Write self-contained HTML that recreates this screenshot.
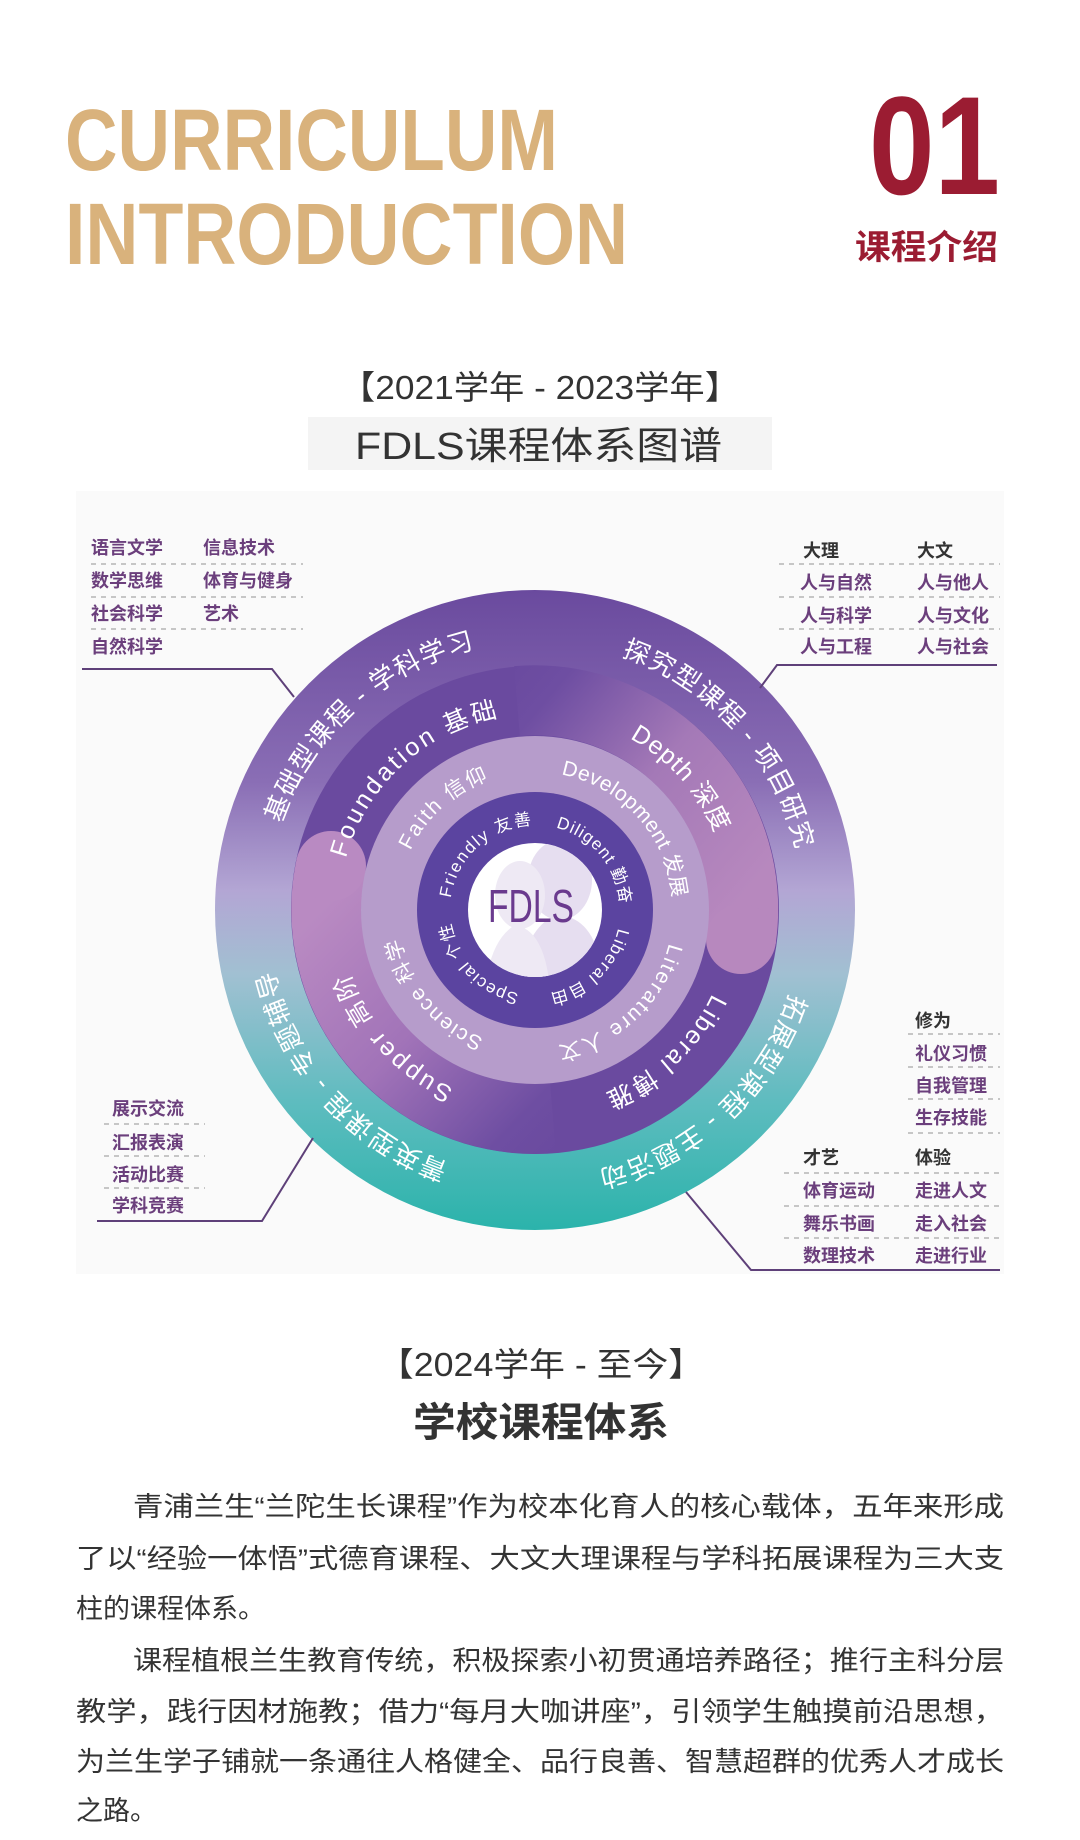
<!DOCTYPE html>
<html><head><meta charset="utf-8"><style>
html,body{margin:0;padding:0;background:#fff;}
svg{display:block;}
.cjk{font-family:"Liberation Sans","Noto Sans CJK SC",sans-serif;}
</style></head><body>
<svg width="1080" height="1840" viewBox="0 0 1080 1840" xmlns="http://www.w3.org/2000/svg" class="cjk">
<defs>
<linearGradient id="outerG" x1="0" y1="590" x2="0" y2="1230" gradientUnits="userSpaceOnUse">
<stop offset="0" stop-color="#6a4a9e"/>
<stop offset="0.3" stop-color="#8a6eb5"/>
<stop offset="0.47" stop-color="#b3a6d4"/>
<stop offset="0.6" stop-color="#a1c0d2"/>
<stop offset="0.8" stop-color="#5ebcbf"/>
<stop offset="1" stop-color="#2bb3ab"/>
</linearGradient>
<linearGradient id="pk1" x1="490" y1="690" x2="740" y2="900" gradientUnits="userSpaceOnUse">
<stop offset="0" stop-color="#6a4a9f"/>
<stop offset="0.15" stop-color="#6e4ea2"/>
<stop offset="0.55" stop-color="#a479b7"/>
<stop offset="1" stop-color="#b788be"/>
</linearGradient>
<linearGradient id="pk2" x1="575" y1="1135" x2="330" y2="900" gradientUnits="userSpaceOnUse">
<stop offset="0" stop-color="#6a4a9f"/>
<stop offset="0.15" stop-color="#6e4ea2"/>
<stop offset="0.55" stop-color="#a173b8"/>
<stop offset="1" stop-color="#b98ac2"/>
</linearGradient>
<path id="p1" d="M803 910 A268 268 0 1 1 267 910 A268 268 0 1 1 803 910"/>
<path id="p2" d="M731 910 A196 196 0 1 1 339 910 A196 196 0 1 1 731 910"/>
<path id="p3" d="M673 910 A138 138 0 1 1 397 910 A138 138 0 1 1 673 910"/>
<path id="p4" d="M620 910 A85 85 0 1 1 450 910 A85 85 0 1 1 620 910"/>
<clipPath id="cc"><circle cx="535" cy="910" r="67"/></clipPath>
</defs>

<text x="65" y="170" font-family="Liberation Sans" font-weight="bold" font-size="87" fill="#d9b27c" textLength="493" lengthAdjust="spacingAndGlyphs">CURRICULUM</text>
<text x="65" y="264" font-family="Liberation Sans" font-weight="bold" font-size="87" fill="#d9b27c" textLength="563" lengthAdjust="spacingAndGlyphs">INTRODUCTION</text>
<text x="869" y="194" font-family="Liberation Sans" font-weight="bold" font-size="140" fill="#9b1c32" textLength="131" lengthAdjust="spacingAndGlyphs">01</text>
<text x="855" y="259" font-weight="bold" font-size="34" fill="#9b1c32" textLength="143" lengthAdjust="spacingAndGlyphs">课程介绍</text>

<text x="340" y="399" font-size="33" fill="#333" textLength="400" lengthAdjust="spacingAndGlyphs">【2021学年 - 2023学年】</text>
<rect x="76" y="491" width="928" height="783" fill="#fafafa"/>
<rect x="308" y="417" width="464" height="53" fill="#f4f4f4"/>
<text x="355" y="459" font-size="38" fill="#333" textLength="367" lengthAdjust="spacingAndGlyphs">FDLS课程体系图谱</text>

<circle cx="535" cy="910" r="320" fill="url(#outerG)"/>
<circle cx="535" cy="910" r="244" fill="#6a4a9f"/>
<path d="M517 701 A209 209 0 0 1 741 939" fill="none" stroke="url(#pk1)" stroke-width="70"/>
<circle cx="741" cy="939" r="35" fill="#b788be"/>
<path d="M553 1118 A209 209 0 0 1 331 866" fill="none" stroke="url(#pk2)" stroke-width="70"/>
<circle cx="331" cy="866" r="35" fill="#b98ac2"/>
<circle cx="535" cy="910" r="174" fill="#b69ccb"/>
<circle cx="535" cy="910" r="118" fill="#5b44a0"/>
<circle cx="535" cy="910" r="67" fill="#fff"/>
<g clip-path="url(#cc)" fill="#e6def0">
<ellipse cx="560" cy="880" rx="32" ry="40"/>
<path d="M520 980 Q525 930 555 915 Q590 915 600 960 L600 990 L520 990 Z"/>
<ellipse cx="520" cy="895" rx="25" ry="34" fill="#eee9f4"/>
<path d="M485 990 Q490 940 515 925 Q545 930 550 990 Z" fill="#eee9f4"/>
</g>
<text x="488" y="922" font-family="Liberation Sans" font-size="46" fill="#6a3a8e" textLength="86" lengthAdjust="spacingAndGlyphs">FDLS</text>

<g fill="#fff" text-anchor="middle">
<text font-size="26"><textPath href="#p1" startOffset="63.3%" textLength="272" lengthAdjust="spacing">基础型课程 - 学科学习</textPath></text>
<text font-size="26"><textPath href="#p1" startOffset="88.3%" textLength="272" lengthAdjust="spacing">探究型课程 - 项目研究</textPath></text>
<text font-size="26"><textPath href="#p1" startOffset="13.1%" textLength="272" lengthAdjust="spacing">拓展型课程 - 主题活动</textPath></text>
<text font-size="26"><textPath href="#p1" startOffset="38.3%" textLength="272" lengthAdjust="spacing">菁英型课程 - 专题辅导</textPath></text>

<text font-size="25"><textPath href="#p2" startOffset="63.1%" textLength="218" lengthAdjust="spacing">Foundation 基础</textPath></text>
<text font-size="25"><textPath href="#p2" startOffset="88.3%" textLength="130" lengthAdjust="spacing">Depth 深度</textPath></text>
<text font-size="25"><textPath href="#p2" startOffset="13.1%" textLength="150" lengthAdjust="spacing">Liberal 博雅</textPath></text>
<text font-size="25"><textPath href="#p2" startOffset="38.3%" textLength="160" lengthAdjust="spacing">Supper 高阶</textPath></text>

<text font-size="21"><textPath href="#p3" startOffset="63.3%" textLength="108" lengthAdjust="spacing">Faith 信仰</textPath></text>
<text font-size="21"><textPath href="#p3" startOffset="88.3%" textLength="178" lengthAdjust="spacing">Development 发展</textPath></text>
<text font-size="21"><textPath href="#p3" startOffset="13.1%" textLength="160" lengthAdjust="spacing">Literature 人文</textPath></text>
<text font-size="21"><textPath href="#p3" startOffset="38.9%" textLength="136" lengthAdjust="spacing">Science 科学</textPath></text>

<text font-size="17"><textPath href="#p4" startOffset="63.3%" textLength="118" lengthAdjust="spacing">Friendly 友善</textPath></text>
<text font-size="17"><textPath href="#p4" startOffset="88.9%" textLength="106" lengthAdjust="spacing">Diligent 勤奋</textPath></text>
<text font-size="17"><textPath href="#p4" startOffset="12.8%" textLength="100" lengthAdjust="spacing">Liberal 自由</textPath></text>
<text font-size="17"><textPath href="#p4" startOffset="37.8%" textLength="104" lengthAdjust="spacing">Special 个性</textPath></text>
</g>

<g fill="none" stroke="#5e4079" stroke-width="2">
<polyline points="82,669 272,669 294,697"/>
<polyline points="997,665 777,665 760,688"/>
<polyline points="97,1221 262,1221 313,1138"/>
<polyline points="1000,1270 751,1270 686,1192"/>
</g>
<g stroke="#b5b5b5" stroke-width="1.5" stroke-dasharray="5,5">
<line x1="91" y1="564" x2="303" y2="564"/><line x1="91" y1="597" x2="303" y2="597"/><line x1="91" y1="629" x2="303" y2="629"/>
<line x1="779" y1="564" x2="1000" y2="564"/><line x1="779" y1="597" x2="1000" y2="597"/><line x1="779" y1="629" x2="1000" y2="629"/>
<line x1="104" y1="1124" x2="205" y2="1124"/><line x1="104" y1="1156" x2="205" y2="1156"/><line x1="104" y1="1188" x2="205" y2="1188"/>
<line x1="908" y1="1034" x2="1000" y2="1034"/><line x1="908" y1="1067" x2="1000" y2="1067"/><line x1="908" y1="1099" x2="1000" y2="1099"/><line x1="908" y1="1133" x2="1000" y2="1133"/>
<line x1="784" y1="1173" x2="1000" y2="1173"/><line x1="784" y1="1206" x2="1000" y2="1206"/><line x1="784" y1="1238" x2="1000" y2="1238"/>
</g>
<g font-size="18" fill="#6b3f7c" font-weight="bold">
<text x="91" y="554">语言文学</text><text x="203" y="554">信息技术</text>
<text x="91" y="587">数学思维</text><text x="203" y="587">体育与健身</text>
<text x="91" y="620">社会科学</text><text x="203" y="620">艺术</text>
<text x="91" y="653">自然科学</text>
<text x="800" y="589">人与自然</text><text x="917" y="589">人与他人</text>
<text x="800" y="622">人与科学</text><text x="917" y="622">人与文化</text>
<text x="800" y="653">人与工程</text><text x="917" y="653">人与社会</text>
<text x="112" y="1115">展示交流</text><text x="112" y="1149">汇报表演</text><text x="112" y="1181">活动比赛</text><text x="112" y="1212">学科竞赛</text>
<text x="915" y="1060">礼仪习惯</text><text x="915" y="1092">自我管理</text><text x="915" y="1124">生存技能</text>
<text x="803" y="1197">体育运动</text><text x="915" y="1197">走进人文</text>
<text x="803" y="1230">舞乐书画</text><text x="915" y="1230">走入社会</text>
<text x="803" y="1262">数理技术</text><text x="915" y="1262">走进行业</text>
</g>
<g font-size="18" fill="#333" font-weight="bold">
<text x="803" y="557">大理</text><text x="917" y="557">大文</text>
<text x="915" y="1027">修为</text>
<text x="803" y="1164">才艺</text><text x="915" y="1164">体验</text>
</g>

<text x="378" y="1376" font-size="33" fill="#333" textLength="326" lengthAdjust="spacingAndGlyphs">【2024学年 - 至今】</text>
<text x="413" y="1436" font-size="40" fill="#333" font-weight="bold" textLength="256" lengthAdjust="spacingAndGlyphs">学校课程体系</text>
<g font-size="27" fill="#333">
<text x="133" y="1516" textLength="871" lengthAdjust="spacingAndGlyphs">青浦兰生“兰陀生长课程”作为校本化育人的核心载体，五年来形成</text>
<text x="76" y="1568" textLength="928" lengthAdjust="spacingAndGlyphs">了以“经验一体悟”式德育课程、大文大理课程与学科拓展课程为三大支</text>
<text x="76" y="1618">柱的课程体系。</text>
<text x="133" y="1670" textLength="871" lengthAdjust="spacingAndGlyphs">课程植根兰生教育传统，积极探索小初贯通培养路径；推行主科分层</text>
<text x="76" y="1721" textLength="928" lengthAdjust="spacingAndGlyphs">教学，践行因材施教；借力“每月大咖讲座”，引领学生触摸前沿思想，</text>
<text x="76" y="1771" textLength="928" lengthAdjust="spacingAndGlyphs">为兰生学子铺就一条通往人格健全、品行良善、智慧超群的优秀人才成长</text>
<text x="76" y="1820">之路。</text>
</g>
</svg>
</body></html>
